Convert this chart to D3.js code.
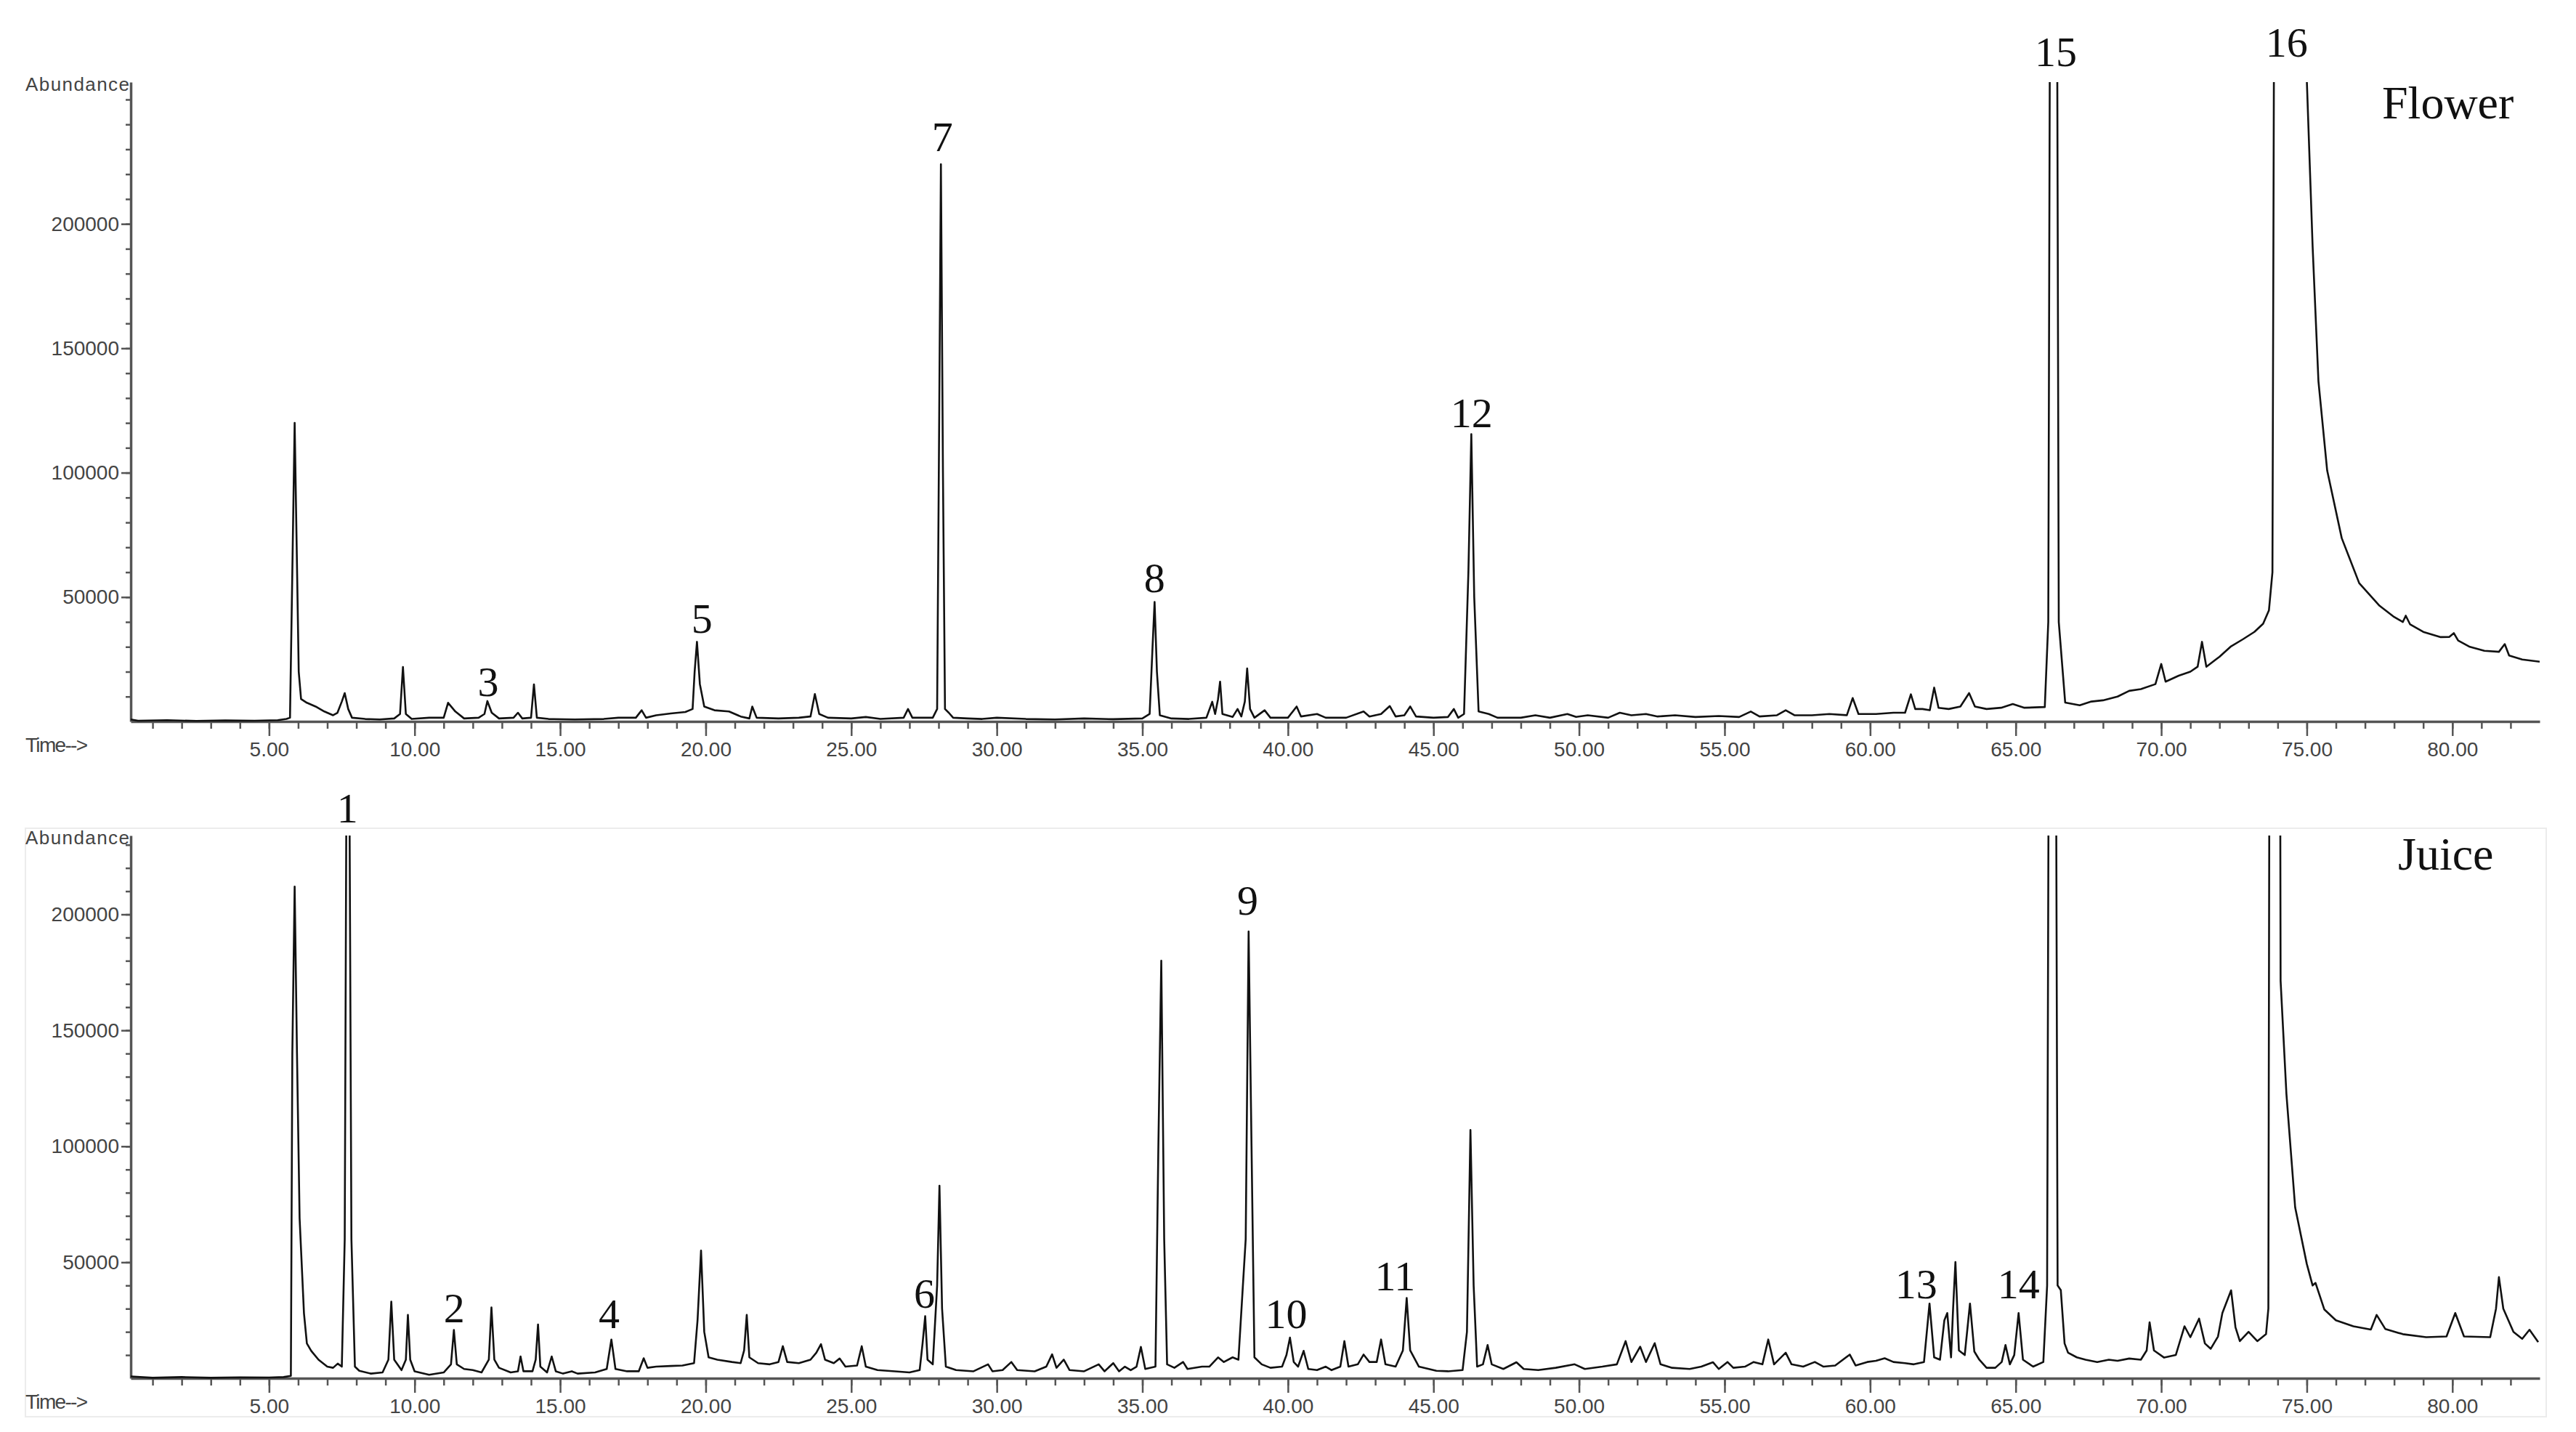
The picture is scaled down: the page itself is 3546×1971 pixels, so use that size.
<!DOCTYPE html>
<html>
<head>
<meta charset="utf-8">
<script src="https://cdn.jsdelivr.net/npm/d3@7"></script>
<style>
  body { margin: 0; background: #fff; }
  .axis text { font-family: "Liberation Sans", Arial, sans-serif; font-size: 28px; fill: #444; }
  .axis path, .axis line { stroke: #555; }
  .peak { font-family: "Liberation Serif", "Times New Roman", serif; font-size: 58px; fill: #111; }
  .name { font-family: "Liberation Serif", "Times New Roman", serif; font-size: 64px; fill: #111; }
</style>
</head>
<body>
<script>
const width = 3546
const height = 1971

/* Time axis (min) and tick values. */
const timeDomain = [0.25, 83]
const majorTimes = [5, 10, 15, 20, 25, 30, 35, 40, 45, 50, 55, 60, 65, 70, 75, 80]
const minorTimes = d3.range(1, 83)
const abundanceTicks = [50000, 100000, 150000, 200000]

/* Flower chromatogram, [time, abundance]. */
const flowerTrace = [
  [0.25, 800], [0.5, 300], [1.5, 500], [2.5, 200], [3.5, 400], [4.5, 300], [5.3, 500], [5.6, 1000],
  [5.72, 1500], [5.8, 60000], [5.88, 120000], [5.95, 70000], [6.02, 20000], [6.1, 9000], [6.3, 7500],
  [6.6, 6000], [6.9, 4000], [7.2, 2500], [7.35, 3500], [7.5, 8000], [7.6, 11400], [7.72, 5000],
  [7.85, 1500], [8.3, 1000], [8.8, 800], [9.3, 1200], [9.5, 3000], [9.6, 21900], [9.7, 3000],
  [9.9, 1000], [10.5, 1500], [11.0, 1500], [11.15, 7500], [11.4, 4000], [11.7, 1200], [12.2, 1500],
  [12.4, 3000], [12.5, 8200], [12.65, 3500], [12.9, 1200], [13.4, 1500], [13.55, 3500], [13.7, 1200],
  [14.0, 1500], [14.1, 14900], [14.2, 1500], [14.6, 1000], [15.5, 800], [16.5, 1000], [17.0, 1500],
  [17.6, 1500], [17.8, 4500], [17.95, 1500], [18.3, 2500], [18.8, 3200], [19.3, 3800], [19.55, 5000],
  [19.62, 20000], [19.7, 32000], [19.8, 15000], [19.95, 6000], [20.3, 4500], [20.8, 4000], [21.2, 2000],
  [21.5, 1200], [21.6, 6000], [21.75, 1500], [22.5, 1200], [23.2, 1500], [23.6, 2000], [23.75, 11000],
  [23.9, 3000], [24.2, 1500], [25.0, 1200], [25.5, 1800], [26.0, 1000], [26.8, 1500], [26.95, 5000],
  [27.1, 1500], [27.8, 1500], [27.95, 5000], [28.02, 120000], [28.08, 224000], [28.15, 100000],
  [28.22, 5000], [28.35, 3500], [28.5, 1500], [29.0, 1200], [29.5, 1000], [30.0, 1500], [31.0, 1000],
  [32.0, 800], [33.0, 1200], [34.0, 900], [35.0, 1200], [35.25, 3000], [35.35, 30000], [35.42, 48000],
  [35.5, 20000], [35.6, 2500], [36.0, 1200], [36.6, 1000], [37.2, 1500], [37.4, 7900], [37.5, 3000],
  [37.6, 9000], [37.67, 16000], [37.75, 3000], [38.1, 1800], [38.27, 5000], [38.4, 2000], [38.52, 8000],
  [38.6, 21300], [38.7, 5000], [38.85, 1500], [39.2, 4500], [39.4, 1500], [40.0, 1500], [40.3, 6000],
  [40.45, 2000], [41.0, 3000], [41.3, 1500], [42.0, 1500], [42.6, 4000], [42.8, 2000], [43.2, 3000],
  [43.5, 6200], [43.7, 2000], [44.0, 2500], [44.2, 6000], [44.4, 2000], [45.0, 1500], [45.5, 1800],
  [45.7, 5000], [45.85, 1500], [46.05, 3000], [46.2, 60000], [46.3, 115500], [46.4, 50000],
  [46.55, 4000], [46.9, 3000], [47.2, 1500], [48.0, 1500], [48.5, 2500], [49.0, 1500], [49.6, 3000],
  [49.9, 1800], [50.3, 2500], [51.0, 1500], [51.4, 3500], [51.8, 2500], [52.3, 3000], [52.7, 2000],
  [53.3, 2500], [54.0, 1800], [54.8, 2200], [55.5, 1800], [55.9, 4000], [56.2, 2000], [56.8, 2500],
  [57.1, 4500], [57.4, 2500], [58.0, 2500], [58.6, 3000], [59.2, 2500], [59.4, 9400], [59.6, 3000],
  [60.2, 3000], [60.8, 3500], [61.2, 3500], [61.4, 10900], [61.55, 5000], [61.8, 5000], [62.05, 4500],
  [62.2, 13600], [62.35, 5500], [62.7, 5000], [63.1, 6000], [63.4, 11400], [63.6, 6000], [64.0, 5000],
  [64.5, 5500], [64.9, 7000], [65.3, 5500], [66.0, 5800], [66.12, 40000], [66.18, 300000],
  [66.42, 300000], [66.48, 40000], [66.7, 7600], [67.2, 6500], [67.6, 8000], [68.0, 8500], [68.5, 10000],
  [68.9, 12300], [69.3, 13000], [69.8, 15000], [70.0, 23100], [70.15, 16000], [70.6, 18400], [71.0, 20000],
  [71.25, 22000], [71.4, 32000], [71.55, 22000], [72.0, 26000], [72.4, 30200], [72.8, 33000],
  [73.2, 36000], [73.5, 39300], [73.7, 44700], [73.82, 60000], [73.88, 300000], [74.98, 300000],
  [75.0, 258000], [75.2, 191000], [75.4, 136800], [75.7, 100900], [76.2, 73700], [76.8, 55600],
  [77.5, 46500], [78.0, 42000], [78.3, 40000], [78.4, 42500], [78.55, 39000], [79.0, 36000],
  [79.6, 33900], [79.9, 34000], [80.05, 35500], [80.2, 32500], [80.6, 30000], [81.1, 28400],
  [81.6, 28000], [81.8, 31100], [81.95, 26500], [82.4, 24900], [83.0, 24000]
]

/* Juice chromatogram, [time, abundance]. */
const juiceTrace = [
  [0.25, 800], [1, 200], [2, 500], [3, 200], [4, 400], [5, 300], [5.5, 500], [5.75, 1000],
  [5.8, 140000], [5.88, 212000], [5.96, 140000], [6.05, 69000], [6.2, 28000], [6.3, 15000],
  [6.45, 11800], [6.7, 8000], [7.0, 5000], [7.2, 4500], [7.36, 6300], [7.5, 5000], [7.6, 60000],
  [7.66, 260000], [7.76, 260000], [7.83, 60000], [7.95, 5000], [8.1, 3200], [8.5, 2000], [8.9, 2500],
  [9.1, 8000], [9.2, 33000], [9.3, 8000], [9.55, 3500], [9.7, 8000], [9.77, 27300], [9.85, 8000],
  [10.0, 3000], [10.5, 1500], [11.0, 2500], [11.25, 6000], [11.35, 20800], [11.45, 6000], [11.7, 4000],
  [12.0, 3500], [12.3, 2500], [12.55, 8000], [12.64, 30500], [12.74, 8000], [12.9, 4500], [13.3, 2500],
  [13.55, 3000], [13.64, 9400], [13.74, 3000], [14.05, 3000], [14.16, 8000], [14.24, 23200],
  [14.32, 5000], [14.55, 2500], [14.71, 9400], [14.85, 3000], [15.1, 2000], [15.4, 3000], [15.6, 2000],
  [16.2, 2500], [16.6, 4000], [16.76, 16700], [16.9, 4000], [17.3, 3000], [17.7, 3000], [17.87, 8600],
  [18.0, 4500], [18.3, 5000], [18.8, 5300], [19.2, 5500], [19.6, 6500], [19.72, 25000], [19.84, 55000],
  [19.95, 20000], [20.1, 9000], [20.4, 8000], [20.9, 7000], [21.2, 6500], [21.32, 12000], [21.41, 27300],
  [21.5, 9000], [21.8, 6500], [22.2, 6000], [22.5, 7000], [22.65, 13800], [22.8, 7000], [23.2, 6500],
  [23.6, 8000], [23.8, 11000], [23.96, 14700], [24.1, 8000], [24.4, 6500], [24.6, 8500], [24.8, 5000],
  [25.2, 5500], [25.36, 13800], [25.5, 5000], [25.9, 3500], [26.5, 3000], [27.0, 2500], [27.35, 3500],
  [27.45, 15000], [27.54, 26800], [27.62, 8000], [27.8, 6000], [27.95, 40000], [28.03, 83000],
  [28.12, 30000], [28.25, 5000], [28.6, 3500], [29.2, 3000], [29.7, 6000], [29.85, 3000], [30.2, 3500],
  [30.5, 7000], [30.7, 3500], [31.3, 3000], [31.7, 5000], [31.9, 10300], [32.05, 4500], [32.3, 8000],
  [32.5, 3500], [33.0, 3000], [33.5, 6000], [33.7, 3000], [34.0, 6500], [34.2, 3000], [34.4, 5000],
  [34.6, 3500], [34.8, 5000], [34.95, 13500], [35.1, 4000], [35.45, 5000], [35.55, 100000],
  [35.65, 180000], [35.75, 60000], [35.85, 6000], [36.1, 4500], [36.4, 7000], [36.55, 4000],
  [37.05, 5000], [37.3, 5000], [37.6, 9000], [37.8, 7000], [38.1, 9000], [38.3, 8000], [38.55, 60000],
  [38.65, 192600], [38.75, 100000], [38.85, 9000], [39.1, 6000], [39.4, 4500], [39.8, 5000],
  [39.95, 10000], [40.07, 17500], [40.2, 7000], [40.35, 5000], [40.54, 11800], [40.7, 4000],
  [41.0, 3500], [41.3, 5000], [41.5, 3500], [41.8, 5000], [41.94, 16000], [42.08, 5000], [42.4, 6000],
  [42.6, 10200], [42.8, 7000], [43.05, 7000], [43.2, 16700], [43.35, 6000], [43.7, 5000], [43.95, 12000],
  [44.08, 34600], [44.2, 12000], [44.5, 5000], [45.1, 3200], [45.5, 3000], [46.0, 3500], [46.15, 20000],
  [46.27, 107000], [46.38, 40000], [46.5, 5000], [46.7, 6000], [46.86, 14300], [47.0, 6000],
  [47.4, 4000], [47.85, 6900], [48.1, 4000], [48.6, 3500], [49.2, 4500], [49.85, 6000], [50.2, 4000],
  [50.8, 5000], [51.3, 6000], [51.6, 16000], [51.8, 7000], [52.1, 13600], [52.3, 7000], [52.6, 15100],
  [52.8, 6000], [53.2, 4500], [53.8, 4000], [54.2, 5000], [54.6, 6900], [54.8, 4000], [55.1, 7000],
  [55.3, 4500], [55.7, 5000], [56.0, 7000], [56.3, 6000], [56.5, 16700], [56.7, 6000], [57.1, 11000],
  [57.3, 6000], [57.7, 5000], [58.1, 7000], [58.4, 5000], [58.8, 5500], [59.3, 10200], [59.5, 5500],
  [59.9, 7000], [60.2, 7500], [60.5, 8600], [60.8, 7000], [61.2, 6500], [61.5, 6000], [61.85, 7000],
  [62.04, 32200], [62.2, 9000], [62.4, 8000], [62.55, 25000], [62.65, 28100], [62.78, 9000],
  [62.85, 30000], [62.93, 50100], [63.05, 12000], [63.25, 10000], [63.43, 32200], [63.58, 11500],
  [63.75, 8000], [64.0, 4500], [64.3, 4500], [64.52, 7000], [64.65, 14300], [64.8, 6000], [64.95, 10000],
  [65.1, 28100], [65.25, 8000], [65.6, 5000], [65.95, 7000], [66.08, 40000], [66.14, 300000],
  [66.38, 300000], [66.44, 40000], [66.55, 38000], [66.68, 15000], [66.8, 11000], [67.1, 9000],
  [67.4, 8000], [67.8, 7000], [68.2, 8000], [68.5, 7500], [68.9, 8500], [69.3, 8000], [69.5, 12000],
  [69.6, 24100], [69.75, 12000], [70.1, 8900], [70.5, 10000], [70.8, 22400], [71.0, 17700],
  [71.3, 25700], [71.5, 15000], [71.7, 12700], [71.95, 18000], [72.1, 28100], [72.4, 37900],
  [72.55, 22000], [72.7, 16000], [73.0, 20000], [73.3, 16000], [73.6, 19000], [73.68, 30000],
  [73.72, 300000], [74.08, 300000], [74.1, 171400], [74.3, 122600], [74.6, 73700], [75.0, 49300],
  [75.2, 40000], [75.3, 41100], [75.6, 29700], [76.0, 25000], [76.6, 22400], [77.2, 21000],
  [77.4, 27300], [77.7, 21200], [78.3, 19000], [79.1, 17700], [79.8, 18000], [80.1, 28100],
  [80.4, 18000], [81.3, 17700], [81.5, 30000], [81.6, 43600], [81.75, 30000], [82.1, 20000],
  [82.4, 17000], [82.65, 20900], [82.95, 15600]
]

/* Peak numbers: [label, time, abundance at label baseline]. */
const flowerPeaks = [
  ["3", 12.53, 10200], ["5", 19.87, 35700], ["7", 28.13, 229200], ["8", 35.42, 52000],
  ["12", 46.31, 118400], ["15", 66.38, 263500], ["16", 74.31, 267100]
]
const juicePeaks = [
  ["1", 7.69, 239700], ["2", 11.36, 24100], ["4", 16.68, 21600], ["6", 27.51, 30500],
  ["9", 38.62, 199900], ["10", 39.94, 21600], ["11", 43.68, 37900], ["13", 61.58, 34600],
  ["14", 65.10, 34600]
]

const svg = d3.select("body").append("svg")
  .attr("width", width)
  .attr("height", height)

svg.append("rect").attr("width", width).attr("height", height).attr("fill", "#fff")

/* faint frame of the lower screenshot */
svg.append("rect")
  .attr("x", 35).attr("y", 1140).attr("width", 3470).attr("height", 810)
  .attr("fill", "none").attr("stroke", "#ececec").attr("stroke-width", 2)

const x = d3.scaleLinear().domain(timeDomain).range([180, 3496])

function panel(id, trace, peaks, yMax, yRange, name, nameX, nameY) {
  const y = d3.scaleLinear().domain([0, yMax]).range(yRange)
  const g = svg.append("g")

  g.append("clipPath").attr("id", id)
    .append("rect")
    .attr("x", x.range()[0]).attr("y", yRange[1])
    .attr("width", x.range()[1] - x.range()[0]).attr("height", yRange[0] - yRange[1] + 4)

  /* minor x ticks */
  g.append("g").attr("class", "axis")
    .attr("transform", `translate(0,${yRange[0]})`)
    .call(d3.axisBottom(x).tickValues(minorTimes).tickSize(10).tickSizeOuter(0).tickFormat(""))
    .call(a => a.selectAll("line").attr("stroke-width", 2.5))
    .call(a => a.select(".domain").attr("stroke-width", 3.5))

  /* major x ticks */
  g.append("g").attr("class", "axis")
    .attr("transform", `translate(0,${yRange[0]})`)
    .call(d3.axisBottom(x).tickValues(majorTimes).tickSize(20).tickPadding(8).tickFormat(d3.format(".2f")))
    .call(a => a.select(".domain").remove())
    .call(a => a.selectAll("line").attr("stroke-width", 2.5))

  /* minor y ticks */
  g.append("g").attr("class", "axis")
    .attr("transform", `translate(${x.range()[0]},0)`)
    .call(d3.axisLeft(y).tickValues(d3.range(10000, yMax, 10000)).tickSize(7).tickSizeOuter(0).tickFormat(""))
    .call(a => a.selectAll("line").attr("stroke-width", 2.5))
    .call(a => a.select(".domain").attr("stroke-width", 3.5))

  /* major y ticks */
  g.append("g").attr("class", "axis")
    .attr("transform", `translate(${x.range()[0]},0)`)
    .call(d3.axisLeft(y).tickValues(abundanceTicks).tickSize(13).tickPadding(3).tickFormat(d3.format("d")))
    .call(a => a.select(".domain").remove())
    .call(a => a.selectAll("line").attr("stroke-width", 2.5))

  g.append("text")
    .attr("x", 35).attr("y", yRange[1] + 12)
    .attr("textLength", 143)
    .attr("font-family", "Liberation Sans, Arial, sans-serif")
    .attr("font-size", 26).attr("fill", "#444")
    .text("Abundance")

  g.append("text")
    .attr("x", 35).attr("y", yRange[0] + 42)
    .attr("textLength", 86)
    .attr("font-family", "Liberation Sans, Arial, sans-serif")
    .attr("font-size", 28).attr("fill", "#444")
    .text("Time-->")

  const line = d3.line().x(d => x(d[0])).y(d => y(d[1]))

  g.append("path")
    .datum(trace)
    .attr("clip-path", `url(#${id})`)
    .attr("fill", "none")
    .attr("stroke", "#111")
    .attr("stroke-width", 2.6)
    .attr("stroke-linejoin", "round")
    .attr("d", line)

  g.selectAll(".peak")
    .data(peaks)
    .enter()
    .append("text")
    .attr("class", "peak")
    .attr("text-anchor", "middle")
    .attr("x", d => x(d[1]))
    .attr("y", d => y(d[2]))
    .text(d => d[0])

  g.append("text")
    .attr("class", "name")
    .attr("x", nameX).attr("y", nameY)
    .text(name)
}

panel("clipFlower", flowerTrace, flowerPeaks, 257000, [993, 113], "Flower", 3279, 163)
panel("clipJuice", juiceTrace, juicePeaks, 234000, [1897, 1150], "Juice", 3301, 1197)
</script>
</body>
</html>
